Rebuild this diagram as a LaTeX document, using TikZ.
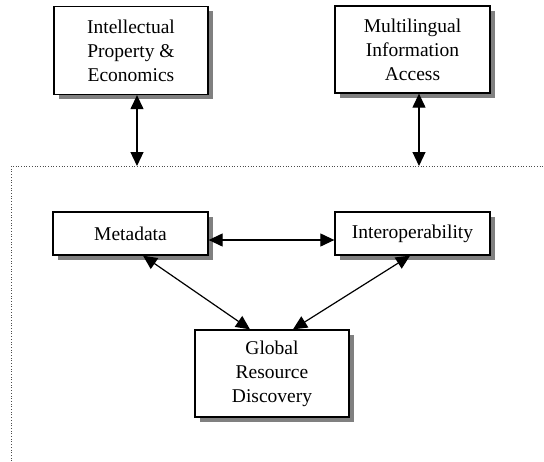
\documentclass[tikz,border=0pt]{standalone}
\usepackage{fontspec}
\setmainfont{Liberation Serif}
\usetikzlibrary{arrows.meta,shadows}
\begin{document}
\begin{tikzpicture}[x=1pt,y=-1pt,
  box/.style={draw=black, line width=1.3pt, fill=white, rectangle, align=center,
    inner sep=0pt, font=\fontsize{19.5}{24}\selectfont,
    drop shadow={shadow xshift=4.5pt, shadow yshift=-4.5pt, fill=black!50, opacity=1}},
  conn/.style={line width=1.2pt, {Triangle[length=14pt,width=13pt]}-{Triangle[length=14pt,width=13pt]}},
  frame/.style={dotted, line width=0.7pt, black!70}]
\useasboundingbox (0,0) rectangle (544,461);
\draw[frame] (11,461) -- (11,166) -- (544,166);
\node[box, minimum width=154pt, minimum height=88pt] (ipe) at (131,50.5) {Intellectual\\Property \&\\Economics};
\node[box, minimum width=155pt, minimum height=87pt] (mia) at (412.5,49.5) {Multilingual\\Information\\Access};
\node[box, minimum width=155pt, minimum height=43pt] (meta) at (130.5,233.5) {Metadata};
\node[box, minimum width=155pt, minimum height=43pt] (inter) at (412.5,233.5) {Interoperability};
\node[box, minimum width=154pt, minimum height=87pt] (grd) at (272,373.5) {Global\\Resource\\Discovery};
\coordinate (ipetop) at (137,166);
\coordinate (miatop) at (419,166);
\draw[conn] (ipe.south -| ipetop) -- (ipetop);
\draw[conn] (mia.south -| miatop) -- (miatop);
\draw[conn] ([yshift=-6.5pt]meta.east) -- ([yshift=-6.5pt]inter.west);
\draw[conn] ([xshift=12.5pt]meta.south) -- ([xshift=-22pt]grd.north);
\draw[conn] ([xshift=-2.5pt]inter.south) -- ([xshift=21pt]grd.north);
\end{tikzpicture}
\end{document}
